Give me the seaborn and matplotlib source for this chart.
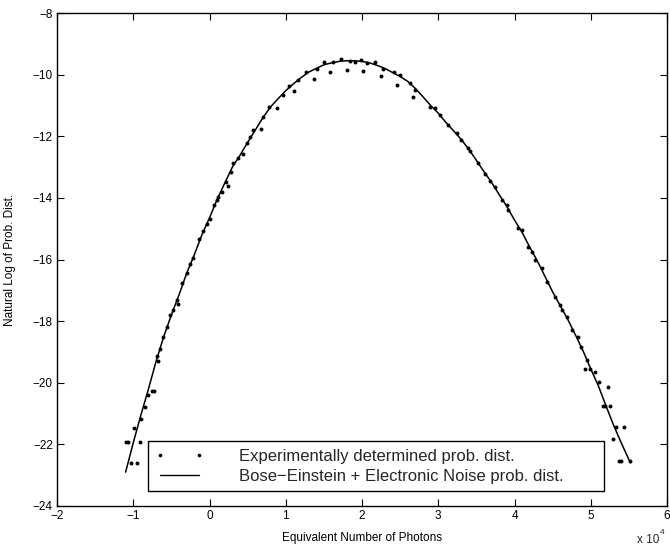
import matplotlib
matplotlib.use("Agg")
import matplotlib.pyplot as plt
import seaborn as sns
import pandas as pd
from matplotlib.lines import Line2D

# ---- data (x in units of 1e4 photons) ----
fit_x = [-1.10, -1.00, -0.90, -0.80, -0.70, -0.60, -0.50, -0.40, -0.30, -0.20,
         -0.10, 0.00, 0.10, 0.20, 0.30, 0.40, 0.50, 0.60, 0.70, 0.80,
         0.90, 1.00, 1.10, 1.20, 1.30, 1.40, 1.50, 1.60, 1.70, 1.80,
         1.90, 2.00, 2.10, 2.20, 2.30, 2.40, 2.50, 2.60, 2.70, 2.80,
         2.90, 3.00, 3.10, 3.20, 3.30, 3.40, 3.50, 3.60, 3.70, 3.80,
         3.90, 4.00, 4.10, 4.20, 4.30, 4.40, 4.50, 4.60, 4.70, 4.80,
         4.90, 5.00, 5.10, 5.20, 5.30, 5.40, 5.52]
fit_y = [-22.90, -21.95, -21.05, -20.20, -19.30, -18.50, -17.80, -17.15, -16.45, -15.85,
         -15.20, -14.65, -14.05, -13.52, -13.00, -12.62, -12.20, -11.80, -11.40, -11.05,
         -10.78, -10.52, -10.30, -10.10, -9.92, -9.80, -9.68, -9.62, -9.57, -9.55,
         -9.55, -9.57, -9.62, -9.70, -9.80, -9.93, -10.06, -10.22, -10.45, -10.72,
         -11.00, -11.25, -11.55, -11.82, -12.10, -12.42, -12.78, -13.15, -13.50, -13.90,
         -14.28, -14.72, -15.12, -15.60, -16.05, -16.55, -17.05, -17.50, -17.95, -18.45,
         -18.97, -19.55, -20.10, -20.75, -21.38, -21.95, -22.60]

exp_x = [-1.100, -1.073, -1.030, -0.955, -0.912, -0.986, -0.898, -0.846, -0.811, -0.758,
         -0.728, -0.693, -0.671, -0.649, -0.606, -0.561, -0.518, -0.475, -0.430, -0.409,
         -0.357, -0.300, -0.256, -0.212, -0.134, -0.081, -0.037, 0.007, 0.059, 0.094,
         0.116, 0.160, 0.212, 0.247, 0.278, 0.312, 0.378, 0.435, 0.496, 0.531,
         0.575, 0.675, 0.706, 0.784, 0.889, 0.968, 1.047, 1.108, 1.165, 1.266,
         1.367, 1.406, 1.506, 1.580, 1.624, 1.725, 1.799, 1.843, 1.908, 1.987,
         2.017, 2.061, 2.170, 2.245, 2.280, 2.420, 2.455, 2.498, 2.630, 2.673,
         2.695, 2.892, 2.957, 3.020, 3.130, 3.240, 3.300, 3.390, 3.416, 3.526,
         3.613, 3.679, 3.744, 3.832, 3.897, 3.919, 4.050, 4.094, 4.181, 4.225,
         4.269, 4.356, 4.422, 4.531, 4.597, 4.619, 4.684, 4.750, 4.837, 4.868,
         4.950, 4.925, 4.990, 5.060, 5.112, 5.220, 5.160, 5.187, 5.255, 5.335,
         5.434, 5.290, 5.374, 5.400, 5.510]
exp_y = [-21.92, -21.92, -22.59, -22.60, -21.92, -21.48, -21.19, -20.80, -20.40, -20.26,
         -20.26, -19.13, -19.30, -18.89, -18.51, -18.20, -17.81, -17.63, -17.32, -17.43,
         -16.76, -16.45, -16.13, -15.96, -15.32, -15.08, -14.85, -14.67, -14.23, -14.07,
         -13.96, -13.80, -13.48, -13.60, -13.15, -12.88, -12.72, -12.56, -12.23, -12.01,
         -11.80, -11.78, -11.37, -11.06, -11.09, -10.66, -10.36, -10.52, -10.18, -9.93,
         -10.14, -9.82, -9.60, -9.91, -9.60, -9.50, -9.84, -9.55, -9.58, -9.52,
         -9.88, -9.63, -9.60, -10.06, -9.82, -9.91, -10.34, -10.01, -10.28, -10.73,
         -10.50, -11.06, -11.09, -11.31, -11.64, -11.91, -12.12, -12.39, -12.48, -12.86,
         -13.23, -13.44, -13.64, -14.07, -14.23, -14.40, -14.99, -15.05, -15.59, -15.75,
         -16.02, -16.29, -16.72, -17.21, -17.48, -17.64, -17.86, -18.28, -18.51, -18.85,
         -19.26, -19.56, -19.56, -19.65, -19.97, -20.14, -20.75, -20.75, -20.75, -21.43,
         -21.43, -21.84, -22.54, -22.54, -22.54]

x_ticks = [-2, -1, 0, 1, 2, 3, 4, 5, 6]
y_ticks = [-24, -22, -20, -18, -16, -14, -12, -10, -8]
legend_labels = ["Experimentally determined prob. dist.",
                 "Bose\u2212Einstein + Electronic Noise prob. dist."]

sns.set_theme(style="ticks")
plt.rcParams["font.family"] = ["Liberation Sans", "DejaVu Sans"]

fig = plt.figure(figsize=(6.7, 5.45), dpi=100)
ax = fig.add_axes([57 / 670, 1 - 506 / 545, 610 / 670, 493 / 545])

fit_df = pd.DataFrame({"x": fit_x, "y": fit_y})
exp_df = pd.DataFrame({"x": exp_x, "y": exp_y})

sns.lineplot(data=fit_df, x="x", y="y", ax=ax, color="black", linewidth=1.1,
             sort=False, estimator=None)
sns.scatterplot(data=exp_df, x="x", y="y", ax=ax, color="black", s=8,
                linewidth=0, zorder=3)

ax.set_xlim(-2, 6)
ax.set_ylim(-24, -8)
ax.set_xticks(x_ticks)
ax.set_yticks(y_ticks)
ax.set_xticklabels([str(t).replace("-", "\u2212") for t in x_ticks])
ax.set_yticklabels([str(t).replace("-", "\u2212") for t in y_ticks])
ax.tick_params(direction="in", length=5, width=0.8, top=True, right=True,
               labelsize=8.5, colors="black", pad=3)
for sp in ax.spines.values():
    sp.set_visible(True)
    sp.set_color("black")
    sp.set_linewidth(1.0)

ax.set_xlabel("Equivalent Number of Photons", fontsize=8.5, color="black")
ax.set_ylabel("Natural Log of Prob. Dist.", fontsize=8.5, color="black")
ax.xaxis.set_label_coords(0.5, -0.053)
ax.yaxis.set_label_coords(-0.068, 0.5)

handles = [Line2D([], [], ls="none", marker="o", color="black", markersize=2.6,
                  markeredgewidth=0),
           Line2D([], [], color="black", lw=1.0)]
leg = ax.legend(handles, legend_labels, loc="lower left",
                bbox_to_anchor=(0.149, 0.030, 0.748, 0.0), mode="expand",
                borderaxespad=0, numpoints=2, handlelength=2.9,
                handletextpad=2.1, borderpad=0.45, labelspacing=0.3,
                fontsize=12, fancybox=False, framealpha=1, edgecolor="black")
leg.get_frame().set_linewidth(1.0)

fig.text(637 / 670, 1 - 540 / 545, "x 10", fontsize=8.5, ha="left", va="center")
fig.text(660 / 670, 1 - 533 / 545, "4", fontsize=6, ha="left", va="center")

fig.savefig("out.png", dpi=100)
